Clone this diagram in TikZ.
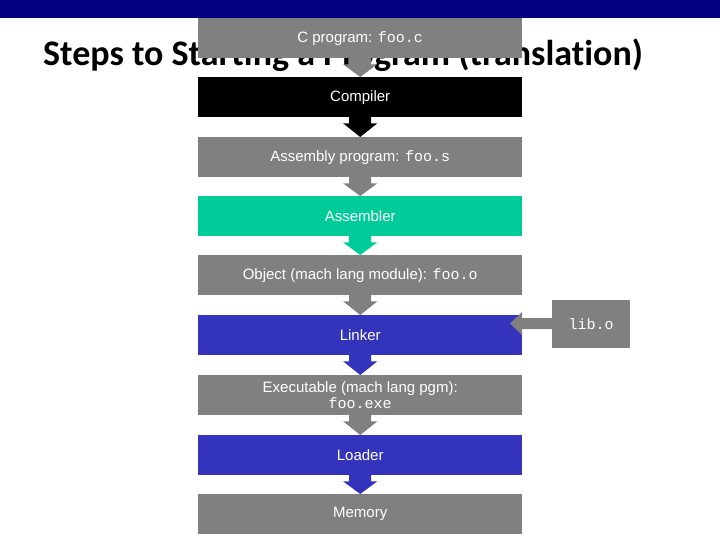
\documentclass[tikz,border=0pt]{standalone}
\usepackage{fontspec}
\usetikzlibrary{calc}
\setmainfont{Liberation Sans}
\setmonofont{Liberation Mono}
\newfontfamily\titlefont[Ligatures=NoCommon]{Carlito}
\begin{document}
\begin{tikzpicture}[x=1pt,y=-1pt,
  box/.style={draw=none,minimum width=324pt,minimum height=40pt,inner sep=0pt,text=white,font=\fontsize{15}{17}\selectfont,align=center,anchor=north west},
  ]
\definecolor{gr}{RGB}{128,128,128}
\definecolor{tl}{RGB}{0,204,153}
\definecolor{bl}{RGB}{51,51,187}
\definecolor{topbar}{RGB}{0,0,128}
\useasboundingbox (0,0) rectangle (720,540);
\fill[topbar] (0,0) rectangle (720,18);
\node[anchor=base west,font=\titlefont\bfseries\fontsize{36}{38}\selectfont,inner sep=0pt] (title) at (43,66) {Steps to Starting a Program (translation)};
\node[box,fill=gr] (b1) at (198,18) {C program: \texttt{foo.c}};
\node[box,fill=black] (b2) at (198,77) {Compiler};
\node[box,fill=gr] (b3) at (198,137) {Assembly program: \texttt{foo.s}};
\node[box,fill=tl] (b4) at (198,196) {Assembler};
\node[box,fill=gr] (b5) at (198,255) {Object (mach lang module): \texttt{foo.o}};
\node[box,fill=bl] (b6) at (198,315) {Linker};
\node[box,fill=gr,font=\fontsize{15}{16}\selectfont] (b7) at (198,375) {Executable (mach lang pgm):\\\texttt{foo.exe}};
\node[box,fill=bl] (b8) at (198,435) {Loader};
\node[box,fill=gr] (b9) at (198,494) {Memory};
\node[fill=gr,minimum width=78pt,minimum height=48pt,inner sep=0pt,text=white,font=\fontsize{15}{17}\selectfont] (lib) at (591,324) {\texttt{lib.o}};
\foreach \a/\b/\c in {b1/b2/gr,b2/b3/black,b3/b4/gr,b4/b5/tl,b5/b6/gr,b6/b7/bl,b7/b8/gr,b8/b9/bl}{
  \fill[\c] ($(\a.south)+(-11,-1)$) -- ($(\a.south)+(-11,6)$) -- ($(\a.south)+(-17,6)$) -- (\b.north) -- ($(\a.south)+(17,6)$) -- ($(\a.south)+(11,6)$) -- ($(\a.south)+(11,-1)$) -- cycle;
}
\fill[gr] (lib.west|-0,318) -- (522,318) -- (522,312) -- (510,323.5) -- (522,335) -- (522,329) -- (lib.west|-0,329) -- cycle;
\end{tikzpicture}
\end{document}
